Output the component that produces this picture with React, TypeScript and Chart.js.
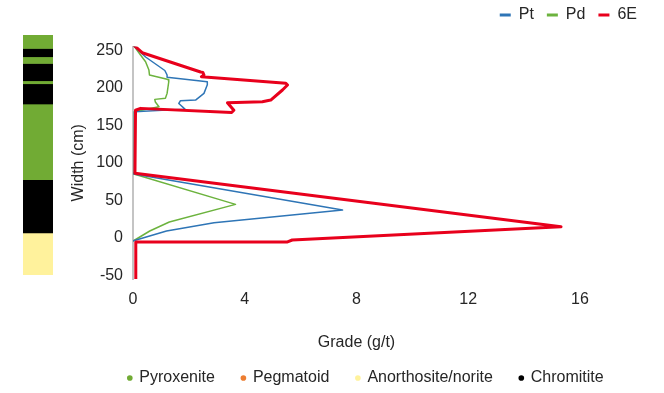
import React, { useEffect, useRef } from 'react';
import { Chart, registerables } from 'chart.js';

Chart.register(...registerables);

const FONT_FAMILY = '"Liberation Sans", Arial, Helvetica, sans-serif';
const TEXT = '#262626';

// ---- series (grade g/t vs width cm) ----
const seriesNames = ['Pt', 'Pd', '6E'];
const seriesColors = ['#2e75b6', '#6cb33e', '#e8001c'];
const seriesLineWidths = [1.5, 1.5, 3];

const ptGrade = [0.05, 0.45, 1.14, 1.22, 1.22, 2.66, 2.66, 2.54, 2.24, 1.7, 1.64, 1.86, 0.05, 0.05, 0.03, 7.5, 2.9, 1.2, 0.02];
const ptWidth = [255, 241, 223, 217, 214, 208, 204, 192.5, 183.6, 182.7, 179, 171.5, 168, 88, 85, 37, 20, 9, -4];

const pdGrade = [0.05, 0.27, 0.45, 0.57, 0.59, 1.26, 1.28, 1.22, 1.16, 0.78, 0.8, 0.93, 0.05, 0.05, 0.03, 3.67, 1.3, 0.6, 0.02];
const pdWidth = [255, 243.6, 234.7, 223.6, 217, 211, 208, 192.5, 186, 184.5, 181, 174.7, 168, 88, 85, 44.5, 21, 9, -4];

const e6Grade = [0.05, 0.33, 2.42, 2.5, 2.54, 2.45, 5.47, 5.53, 5.35, 4.93, 4.63, 3.38, 3.61, 3.53, 0.27, 0.09, 0.07, 15.32, 5.7, 5.53, 0.1, 0.1];
const e6Width = [256, 246.7, 221, 220.5, 217, 214.7, 206, 203.6, 197, 183.6, 181.3, 180, 170, 167, 172.5, 170, 86, 14.7, -3, -5.5, -5.5, -55];

const gradeTicks = [0, 4, 8, 12, 16];
const widthTicks = [-50, 0, 50, 100, 150, 200, 250];

// ---- lithology column ----
const lithoTop = [270, 252, 241, 232, 209, 205, 178, 77, 6];
const lithoBase = [252, 241, 232, 209, 205, 178, 77, 6, -50];
const lithoUnit = ['Pyroxenite', 'Chromitite', 'Pyroxenite', 'Chromitite', 'Pyroxenite', 'Chromitite', 'Pyroxenite', 'Chromitite', 'Anorthosite/norite'];
const lithoNames = ['Pyroxenite', 'Pegmatoid', 'Anorthosite/norite', 'Chromitite'];
const lithoColors = ['#71ab34', '#ed7d31', '#fff29c', '#000000'];

const font = (size: number) => ({ family: FONT_FAMILY, size });

export default function App() {
  const mainRef = useRef<HTMLCanvasElement>(null);
  const stripRef = useRef<HTMLCanvasElement>(null);
  const legRef = useRef<HTMLCanvasElement>(null);

  useEffect(() => {
    document.body.style.margin = '0';
    const grades = [ptGrade, pdGrade, e6Grade];
    const widths = [ptWidth, pdWidth, e6Width];
    const orders = [1, 2, 0];

    const main = new Chart(mainRef.current!, {
      type: 'scatter',
      data: {
        datasets: seriesNames.map((name, i) => ({
          label: name,
          data: grades[i].map((x, j) => ({ x, y: widths[i][j] })),
          borderColor: seriesColors[i],
          backgroundColor: seriesColors[i],
          borderWidth: seriesLineWidths[i],
          borderJoinStyle: 'round',
          borderCapStyle: 'round',
          showLine: true,
          pointRadius: 0,
          tension: 0,
          order: orders[i],
        })),
      },
      options: {
        responsive: false,
        animation: false,
        layout: { padding: { top: -6, right: 14, bottom: 37, left: 65 } },
        plugins: {
          tooltip: { enabled: false },
          legend: {
            position: 'top',
            align: 'end',
            labels: {
              boxWidth: 11,
              boxHeight: 3,
              padding: 13,
              color: TEXT,
              font: font(16),
              generateLabels: () =>
                seriesNames.map((name, i) => ({
                  text: name,
                  fillStyle: seriesColors[i],
                  strokeStyle: seriesColors[i],
                  lineWidth: 0,
                  hidden: false,
                  datasetIndex: i,
                  fontColor: TEXT,
                })),
            },
          },
        },
        scales: {
          x: {
            type: 'linear',
            position: 'bottom',
            min: 0,
            max: 16,
            afterBuildTicks: (s: any) => { s.ticks = gradeTicks.map((v) => ({ value: v })); },
            ticks: { padding: 11, color: TEXT, font: font(16) },
            grid: { display: false, drawTicks: false },
            border: { display: false },
            title: { display: true, text: 'Grade (g/t)', color: TEXT, font: font(16), padding: { top: 4, bottom: 4 } },
            afterFit: (s: any) => { s.height = 77; },
          },
          y: {
            type: 'linear',
            position: 'left',
            min: -55,
            max: 255,
            afterBuildTicks: (s: any) => { s.ticks = widthTicks.map((v) => ({ value: v })); },
            ticks: { padding: 10, color: TEXT, font: font(16) },
            grid: { display: false, drawTicks: false },
            border: { display: true, color: '#c4c4c4', width: 2 },
            title: { display: true, text: 'Width (cm)', color: TEXT, font: font(16), padding: { top: 4, bottom: 4 } },
            afterFit: (s: any) => { s.width = 68; },
          },
          x2: {
            type: 'linear',
            position: 'top',
            ticks: { display: false },
            grid: { display: false, drawTicks: false },
            border: { display: false },
            afterFit: (s: any) => { s.height = 13.5; },
          },
          y2: {
            type: 'linear',
            position: 'right',
            ticks: { display: false },
            grid: { display: false, drawTicks: false },
            border: { display: false },
            afterFit: (s: any) => { s.width = 70; },
          },
        },
      } as any,
    });

    const colorOf = (unit: string) => lithoColors[lithoNames.indexOf(unit)];
    const strip = new Chart(stripRef.current!, {
      type: 'bar',
      data: {
        labels: ['Lithology'],
        datasets: lithoTop.map((top, i) => ({
          label: lithoUnit[i],
          data: [[lithoBase[i], top]] as any,
          backgroundColor: colorOf(lithoUnit[i]),
          borderWidth: 0,
          grouped: false,
          categoryPercentage: 1,
          barPercentage: 1,
        })),
      },
      options: {
        responsive: false,
        animation: false,
        layout: { padding: 0 },
        plugins: { legend: { display: false }, tooltip: { enabled: false } },
        scales: {
          x: { display: false },
          y: { display: false, min: -50, max: 270 },
        },
      } as any,
    });

    const leg = new Chart(legRef.current!, {
      type: 'scatter',
      data: {
        datasets: lithoNames.map((name, i) => ({
          label: name,
          data: [],
          backgroundColor: lithoColors[i],
          borderColor: lithoColors[i],
          borderWidth: 0,
          pointStyle: 'circle',
        })),
      },
      options: {
        responsive: false,
        animation: false,
        layout: { padding: 0 },
        plugins: {
          tooltip: { enabled: false },
          legend: {
            position: 'top',
            align: 'center',
            labels: {
              usePointStyle: true,
              boxWidth: 3,
              boxHeight: 4,
              padding: 27,
              color: TEXT,
              font: font(16),
            },
          },
        },
        scales: { x: { display: false }, y: { display: false } },
      } as any,
    });

    return () => {
      main.destroy();
      strip.destroy();
      leg.destroy();
    };
  }, []);

  return (
    <div style={{ position: 'fixed', left: 0, top: 0, width: 664, height: 393, overflow: 'hidden', background: '#fff' }}>
      <canvas ref={mainRef} width={664} height={393} style={{ position: 'absolute', left: 0, top: 0, display: 'block' }} />
      <canvas ref={stripRef} width={30} height={240} style={{ position: 'absolute', left: 23, top: 35, display: 'block' }} />
      <canvas ref={legRef} width={598} height={110} style={{ position: 'absolute', left: 67, top: 343, display: 'block' }} />
    </div>
  );
}
